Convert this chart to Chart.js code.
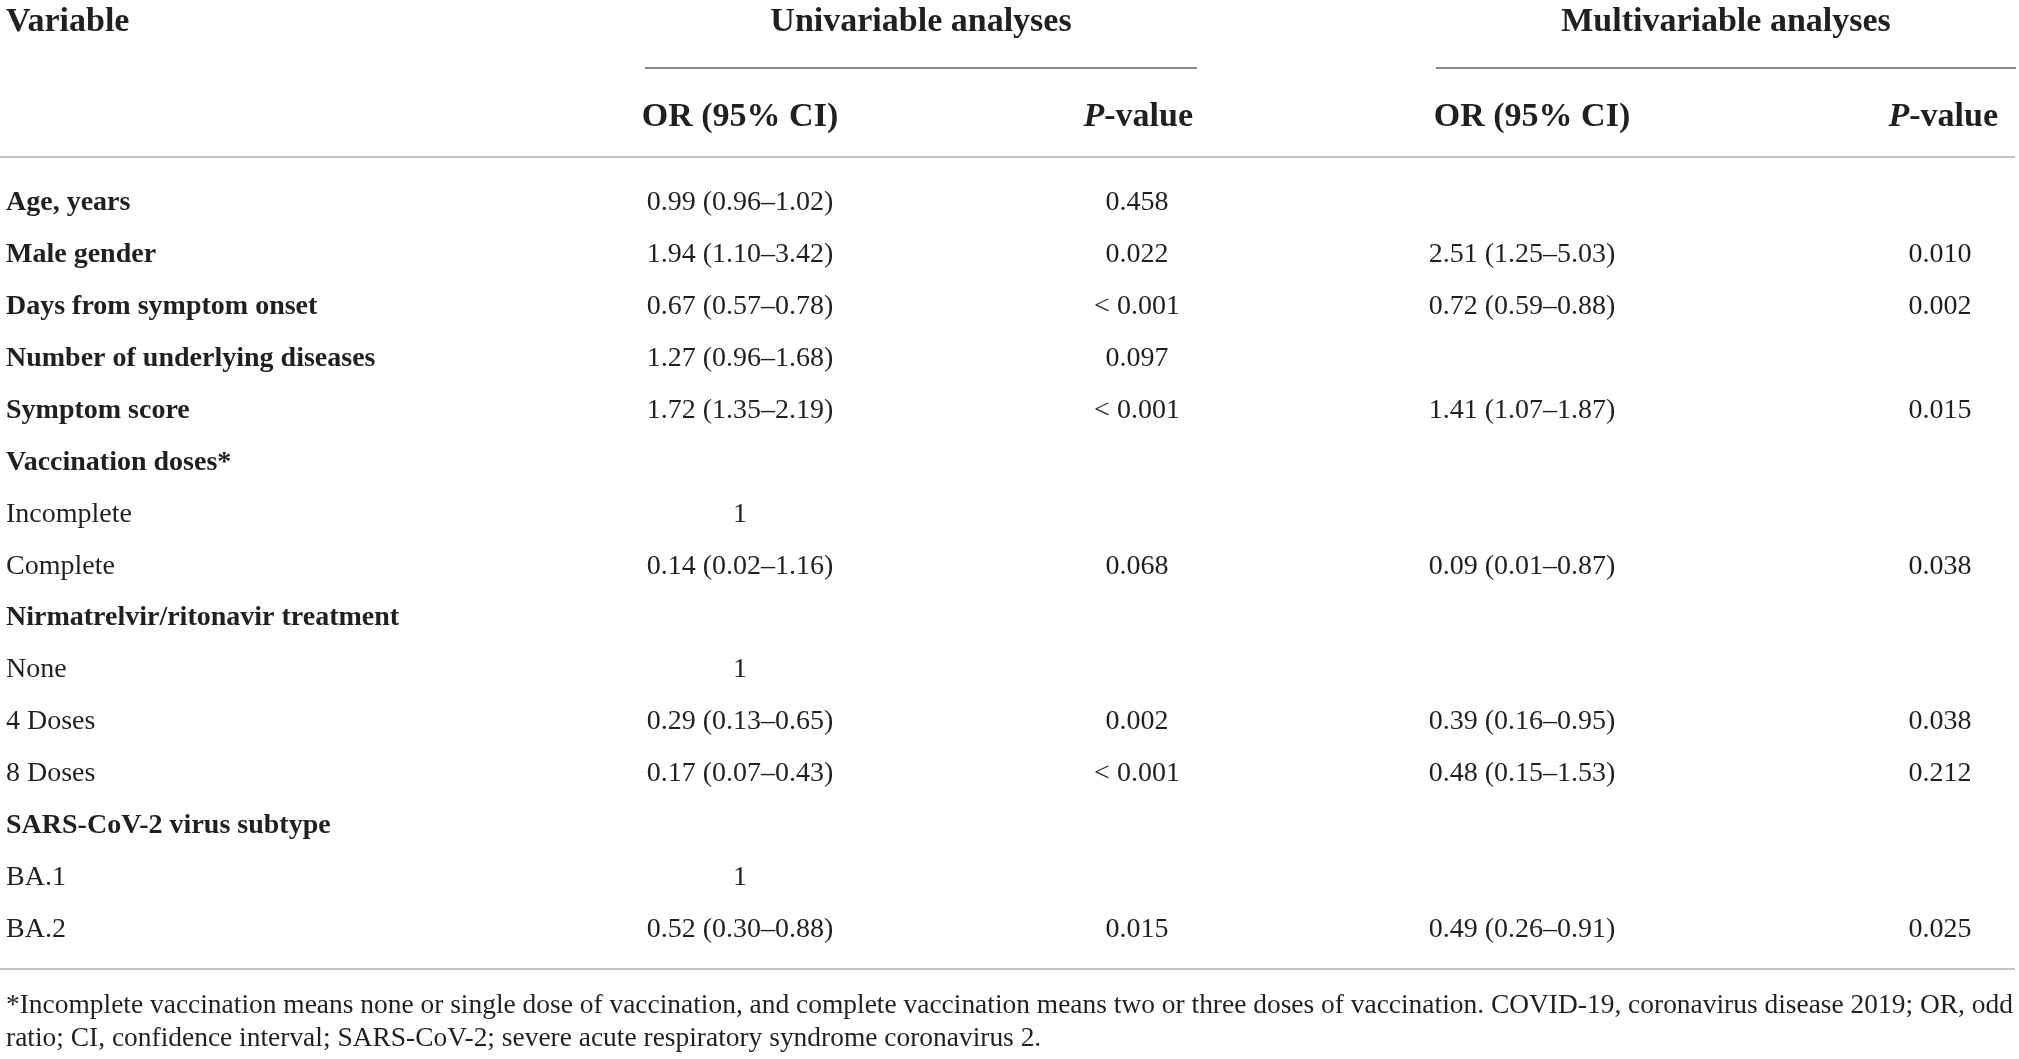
<!DOCTYPE html>
<html>

<head>
    <title>OR table</title>
    <script src="https://cdn.jsdelivr.net/npm/chart.js@4.4.1/dist/chart.umd.min.js"></script>
    <style>
        body { margin: 0; background: #fff; }
        #tabla { display: block; }
    </style>
</head>

<body>
    <canvas id="tabla" width="2019" height="1059"></canvas>

    <script>
        // Datos de la tabla (una entrada por fila)
        const variables = [
            'Age, years', 'Male gender', 'Days from symptom onset', 'Number of underlying diseases',
            'Symptom score', 'Vaccination doses*', 'Incomplete', 'Complete',
            'Nirmatrelvir/ritonavir treatment', 'None', '4 Doses', '8 Doses',
            'SARS-CoV-2 virus subtype', 'BA.1', 'BA.2'
        ];
        const negrita = [true, true, true, true, true, true, false, false, true, false, false, false, true, false, false];
        const orUni = [
            '0.99 (0.96–1.02)', '1.94 (1.10–3.42)', '0.67 (0.57–0.78)', '1.27 (0.96–1.68)',
            '1.72 (1.35–2.19)', '', '1', '0.14 (0.02–1.16)', '', '1', '0.29 (0.13–0.65)',
            '0.17 (0.07–0.43)', '', '1', '0.52 (0.30–0.88)'
        ];
        const pUni = ['0.458', '0.022', '< 0.001', '0.097', '< 0.001', '', '', '0.068', '', '', '0.002', '< 0.001', '', '', '0.015'];
        const orMulti = [
            '', '2.51 (1.25–5.03)', '0.72 (0.59–0.88)', '', '1.41 (1.07–1.87)', '', '',
            '0.09 (0.01–0.87)', '', '', '0.39 (0.16–0.95)', '0.48 (0.15–1.53)', '', '', '0.49 (0.26–0.91)'
        ];
        const pMulti = ['', '0.010', '0.002', '', '0.015', '', '', '0.038', '', '', '0.038', '0.212', '', '', '0.025'];
        const grupos = ['Univariable analyses', 'Multivariable analyses'];
        const subtitulos = ['OR (95% CI)', 'P-value', 'OR (95% CI)', 'P-value'];
        const notas = [
            '*Incomplete vaccination means none or single dose of vaccination, and complete vaccination means two or three doses of vaccination. COVID-19, coronavirus disease 2019; OR, odd',
            'ratio; CI, confidence interval; SARS-CoV-2; severe acute respiratory syndrome coronavirus 2.'
        ];

        // Disposicion (en unidades de las escalas)
        const columnasX = [6, 740, 1137, 1522, 1940];
        const columnasAlign = ['left', 'center', 'center', 'center', 'center'];
        const filaTitulo = -3.48, filaLineaGrupo = -2.60, filaSub = -1.66, filaLineaSup = -0.886;
        const filaLineaInf = 14.76, filaNotas = [15.47, 16.10];
        const colorTexto = '#231f20';
        const fuente = '"Liberation Serif", "Times New Roman", serif';

        const columnas = [variables, orUni, pUni, orMulti, pMulti];

        const datasets = columnas.map((col, c) => ({
            label: 'col' + c,
            data: col.map((t, i) => ({ x: columnasX[c], y: i })).filter((p, i) => col[i] !== ''),
            textos: col.filter(t => t !== ''),
            filas: col.map((t, i) => i).filter(i => col[i] !== ''),
            pointRadius: 0,
            showLine: false
        }));

        const dibujarTabla = {
            id: 'dibujarTabla',
            afterDatasetsDraw(chart) {
                const ctx = chart.ctx;
                const x = chart.scales.x, y = chart.scales.y;
                ctx.save();
                ctx.fillStyle = colorTexto;
                ctx.textBaseline = 'middle';

                // celdas
                chart.data.datasets.forEach((ds, c) => {
                    const meta = chart.getDatasetMeta(c);
                    meta.data.forEach((el, k) => {
                        const fila = ds.filas[k];
                        const bold = c === 0 && negrita[fila];
                        ctx.font = (bold ? 'bold ' : '') + '28px ' + fuente;
                        ctx.textAlign = columnasAlign[c];
                        ctx.fillText(ds.textos[k], el.x, el.y);
                    });
                });

                // encabezados
                ctx.font = 'bold 34px ' + fuente;
                ctx.textAlign = 'left';
                ctx.fillText('Variable', x.getPixelForValue(6), y.getPixelForValue(filaTitulo));
                ctx.textAlign = 'center';
                ctx.fillText(grupos[0], x.getPixelForValue(921), y.getPixelForValue(filaTitulo));
                ctx.fillText(grupos[1], x.getPixelForValue(1726), y.getPixelForValue(filaTitulo));

                const subY = y.getPixelForValue(filaSub);
                ctx.fillText(subtitulos[0], x.getPixelForValue(740), subY);
                ctx.fillText(subtitulos[2], x.getPixelForValue(1532), subY);
                // P-value con P en cursiva, alineado a la derecha
                [1193, 1998].forEach(derecha => {
                    ctx.font = 'italic bold 34px ' + fuente;
                    const wP = ctx.measureText('P').width;
                    ctx.font = 'bold 34px ' + fuente;
                    const wR = ctx.measureText('-value').width;
                    const x0 = x.getPixelForValue(derecha) - wP - wR;
                    ctx.textAlign = 'left';
                    ctx.font = 'italic bold 34px ' + fuente;
                    ctx.fillText('P', x0, subY);
                    ctx.font = 'bold 34px ' + fuente;
                    ctx.fillText('-value', x0 + wP, subY);
                });

                // lineas
                ctx.lineWidth = 2;
                ctx.strokeStyle = '#8a8a8a';
                const yg = y.getPixelForValue(filaLineaGrupo);
                [[645, 1197], [1436, 2016]].forEach(([a, b]) => {
                    ctx.beginPath();
                    ctx.moveTo(x.getPixelForValue(a), yg);
                    ctx.lineTo(x.getPixelForValue(b), yg);
                    ctx.stroke();
                });
                ctx.strokeStyle = '#c4c4c4';
                [filaLineaSup, filaLineaInf].forEach(f => {
                    const yy = y.getPixelForValue(f);
                    ctx.beginPath();
                    ctx.moveTo(x.getPixelForValue(0), yy);
                    ctx.lineTo(x.getPixelForValue(2015), yy);
                    ctx.stroke();
                });

                // notas al pie, ajustadas al ancho
                ctx.textAlign = 'left';
                ctx.font = '10px ' + fuente;
                const tam = 10 * 2008 / ctx.measureText(notas[0]).width;
                ctx.font = tam.toFixed(2) + 'px ' + fuente;
                notas.forEach((t, i) => {
                    ctx.fillText(t, x.getPixelForValue(6), y.getPixelForValue(filaNotas[i]));
                });
                ctx.restore();
            }
        };

        const pxFila = 51.9, yPrimera = 203;
        new Chart(document.getElementById('tabla'), {
            type: 'scatter',
            data: { datasets: datasets },
            options: {
                responsive: false,
                animation: false,
                layout: { padding: 0 },
                plugins: { legend: { display: false }, tooltip: { enabled: false } },
                scales: {
                    x: { type: 'linear', display: false, min: 0, max: 2019 },
                    y: {
                        type: 'linear', display: false, reverse: true,
                        min: -yPrimera / pxFila, max: (1059 - yPrimera) / pxFila
                    }
                }
            },
            plugins: [dibujarTabla]
        });
    </script>
</body>

</html>
